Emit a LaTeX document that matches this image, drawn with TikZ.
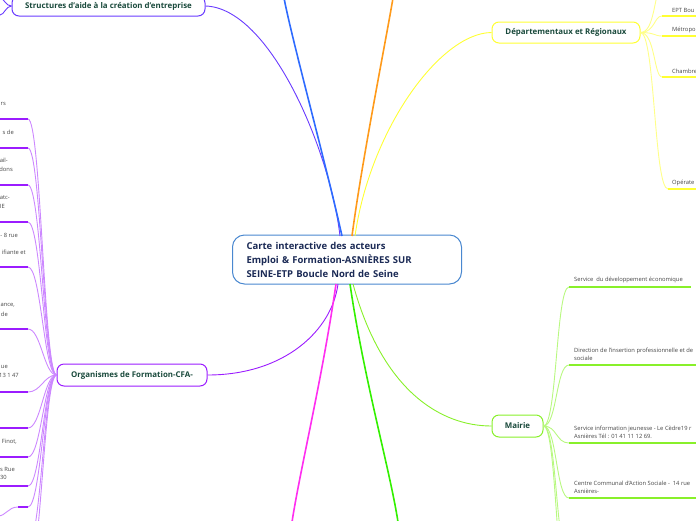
\documentclass[tikz,border=0pt]{standalone}
\usepackage{fontspec}
\setmainfont{Open Sans}
\definecolor{cblue}{HTML}{4A88D0}
\definecolor{navy}{HTML}{1B2A55}
\definecolor{dgreen}{HTML}{1A4A3C}
\definecolor{violetc}{HTML}{6A3CFF}
\definecolor{bluec}{HTML}{2E6BFF}
\definecolor{orangec}{HTML}{FF9A1A}
\definecolor{yellowc}{HTML}{FFFF33}
\definecolor{yellowl}{HTML}{FFFF88}
\definecolor{purplec}{HTML}{9B1CFF}
\definecolor{purplel}{HTML}{CC88FF}
\definecolor{magentac}{HTML}{FF2EF0}
\definecolor{greenc}{HTML}{33F000}
\definecolor{lgreenc}{HTML}{88F02A}
\definecolor{lgreenl}{HTML}{B8F880}
\definecolor{leaftxt}{HTML}{444444}
\tikzset{
  branchbox/.style={draw, fill=white, rounded corners=7pt, line width=1pt, text=dgreen, font=\bfseries\fontsize{7.9}{9}\selectfont, inner sep=0pt},
  leaftext/.style={text=leaftxt, font=\fontsize{5.8}{8}\selectfont, inner sep=0pt, align=left},
  mainline/.style={line width=1.6pt},
  subline/.style={line width=0.9pt},
}
\begin{document}
\begin{tikzpicture}[x=1pt,y=-1pt]
\useasboundingbox (0,0) rectangle (696,520);
\clip (0,0) rectangle (696,520);

% center node
\node[draw=cblue, fill=white, line width=1pt, rounded corners=12pt, minimum width=229pt, minimum height=49pt, text width=201pt, inner xsep=14pt, align=left, text=navy, font=\bfseries\fontsize{9.5}{14}\selectfont] (C) at (347,259.5) {Carte interactive des acteurs\\Emploi \& Formation-ASNIÈRES SUR\\SEINE-ETP Boucle Nord de Seine};

% branch nodes
\node[branchbox, draw=violetc, minimum width=193pt, minimum height=20pt] (S) at (108.5,6) {Structures d'aide à la création d'entreprise};
\node[branchbox, draw=yellowc, minimum width=148pt, minimum height=21pt] (D) at (566,32.5) {Départementaux et Régionaux};
\node[branchbox, draw=purplec, minimum width=150pt, minimum height=22pt] (O) at (132,375) {Organismes de Formation-CFA-};
\node[branchbox, draw=lgreenc, minimum width=51pt, minimum height=22pt] (M) at (517.5,426) {Mairie};

% anchor points on center node
\coordinate (t1) at (340,236);
\coordinate (t2) at (342,236);
\coordinate (t3) at (352,236);
\coordinate (t4) at (355,236);
\coordinate (b1) at (338,284);
\coordinate (b2) at (336,284);
\coordinate (b3) at (350,284);
\coordinate (b4) at (353,284);
\coordinate (eb) at (284,-2);
\coordinate (eo) at (393,-2);
\coordinate (em) at (292,522);
\coordinate (eg) at (398,522);

% main branches
\draw[subline, violetc] (S.east) .. controls (270,8) and (330,150) .. (t1);
\draw[mainline, bluec] (t2) .. controls (325,160) and (292,40) .. (eb);
\draw[mainline, orangec] (t3) .. controls (362,160) and (386,40) .. (eo);
\draw[subline, yellowc] (D.west) .. controls (440,33) and (370,130) .. (t4);
\draw[subline, purplec] (O.east) .. controls (285,375) and (332,330) .. (b1);
\draw[mainline, magentac] (b2) .. controls (322,380) and (300,470) .. (em);
\draw[mainline, greenc] (b3) .. controls (364,380) and (390,470) .. (eg);
\draw[subline, lgreenc] (b4) .. controls (382,390) and (440,426) .. (M.west);

% Structures left stubs
\coordinate (s1) at (0,-3);
\coordinate (s2) at (0,15);
\draw[subline, violetc] (S.west) .. controls (6,6) and (4,-1) .. (s1);
\draw[subline, violetc] (S.west) .. controls (6,6) and (4,15) .. (s2);

% Departementaux leaves
\foreach \n/\y/\x in {a/-8/660, b/16/662, c/36/662, d/77/662, e/189/668}{
  \coordinate (d\n s) at (\x,\y);
  \coordinate (d\n e) at (700,\y);
  \draw[subline, yellowl] (D.east) .. controls (655,32.5) and (654,\y) .. (d\n s);
  \draw[line width=1.6pt, yellowc] (d\n s) -- (d\n e);
}
\node[leaftext, anchor=south west] (l1) at (672,13) {EPT Bou};
\node[leaftext, anchor=south west] (l2) at (672,33) {Métropo};
\node[leaftext, anchor=south west] (l3) at (672,74) {Chambre};
\node[leaftext, anchor=south west] (l4) at (672,186) {Opérate};

% Mairie leaves
\foreach \n/\y in {a/287, b/365, c/443, d/498, e/560, f/600}{
  \coordinate (m\n s) at (569,\y);
  \coordinate (m\n e) at (700,\y);
  \draw[subline, lgreenl] (M.east) .. controls (557,426) and (556,\y) .. (m\n s);
}
\draw[line width=1.6pt, lgreenc] (mas) -- (691,287);
\foreach \n in {b,c,d}{ \draw[line width=1.6pt, lgreenc] (m\n s) -- (m\n e); }
\node[leaftext, anchor=south west] (r1) at (574,283) {Service\ \ du développement économique};
\node[leaftext, anchor=south west] (r2) at (574,361) {Direction de l'insertion professionnelle et de\\sociale};
\node[leaftext, anchor=south west] (r3) at (574,439) {Service information jeunesse - Le Cèdre19 r\\Asnières Tél : 01 41 11 12 69.};
\node[leaftext, anchor=south west] (r4) at (574,494) {Centre Communal d'Action Sociale -\ \ 14 rue\\Asnières-};

% Organismes leaves
\foreach \n/\y in {a/119, b/148, c/185, d/222, e/267, f/329, g/392, h/428, i/457, j/486, k/545, l/575}{
  \coordinate (o\n s) at (28,\y);
  \coordinate (o\n e) at (-4,\y);
  \draw[subline, purplel] (O.west) .. controls (44,375) and (41,\y) .. (o\n s);
  \draw[line width=1.6pt, purplec] (o\n s) -- (o\n e);
}
\coordinate (ox1) at (18,507);
\coordinate (ox2) at (28,507);
\coordinate (ox0) at (-2,516);
\draw[subline, purplel] (O.west) .. controls (44,375) and (41,507) .. (ox2);
\draw[line width=1.6pt, purplec] (ox1) -- (ox2);
\draw[subline, purplel] (ox1) .. controls (8,507) and (6,516) .. (ox0);

\node[leaftext, anchor=east] (p1) at (6,104) {rs};
\node[leaftext, anchor=east] (p2) at (14,132) {s de};
\node[leaftext, anchor=east] (p3) at (8,160) {ail-};
\node[leaftext, anchor=east] (p4) at (13,169) {dons};
\node[leaftext, anchor=east] (p5) at (10,198) {atc-};
\node[leaftext, anchor=east] (p6) at (5,206) {IE};
\node[leaftext, anchor=east] (p7) at (18,235) {- 8 rue};
\node[leaftext, anchor=east] (p8) at (26,252) {ifiante et};
\node[leaftext, anchor=east] (p9) at (15,305) {ance,};
\node[leaftext, anchor=east] (p10) at (8,314) {de};
\node[leaftext, anchor=east] (p11) at (8,367) {ue};
\node[leaftext, anchor=east] (p12) at (19,375) {13 1 47};
\node[leaftext, anchor=east] (p13) at (17,442) {Finot,};
\node[leaftext, anchor=east] (p14) at (15,469) {s Rue};
\node[leaftext, anchor=east] (p15) at (7,477) {30};
\end{tikzpicture}
\end{document}
